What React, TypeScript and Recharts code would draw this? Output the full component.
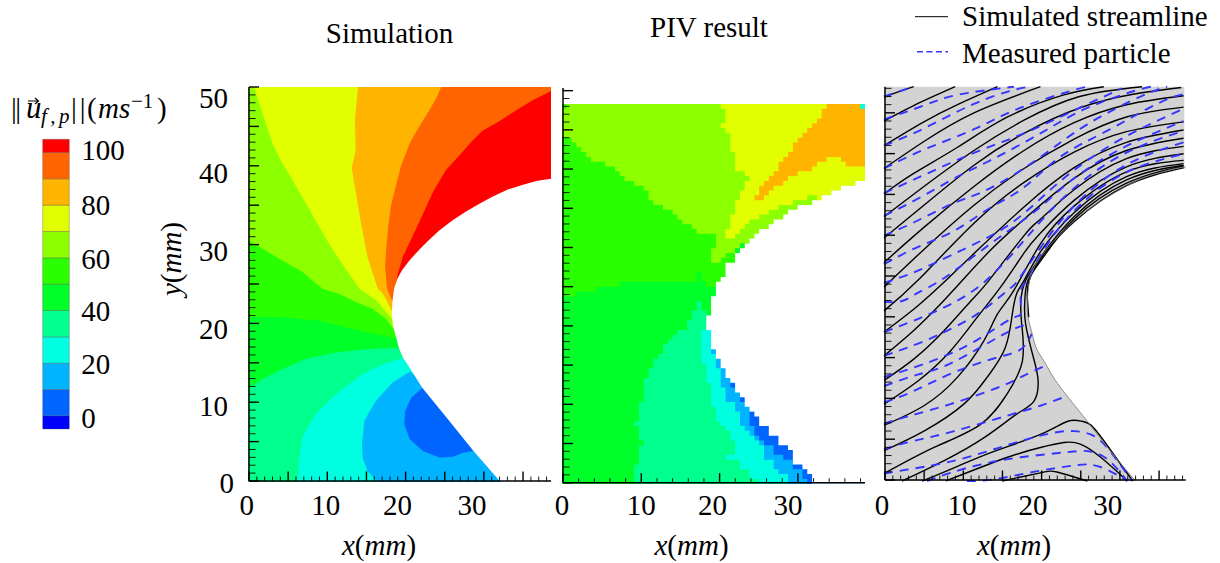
// Contour comparison: simulation, PIV result and streamlines around a profile
import { ScatterChart, Scatter, XAxis, YAxis } from 'recharts';

type Pt = number[];

const SERIF = '"Liberation Serif", "Times New Roman", serif';
const FONT_SIZE = 29;

// colour scale, bottom to top
const LEVELS = [-5, 0, 10, 20, 30, 40, 50, 60, 70, 80, 90, 100, 105];
const LEVEL_COLORS = [
  '#0000ff', '#0064ff', '#00b4ff', '#00ffe0', '#00ff8c', '#00ff28',
  '#2aff00', '#8cff00', '#e1ff00', '#ffb400', '#ff6400', '#ff0000',
];
const LEVEL_TICKS = [0, 20, 40, 60, 80, 100];
const LEVEL_LABEL_DY: Record<number, number> = { 0: 12.3, 20: 11.3, 40: 11, 60: 11.3, 80: 10.3, 100: 8 };

// profile edge in mm
const PROFILE: Pt[] = [
  [38.57, 38.4], [36.7, 38.1], [34.9, 37.6], [33, 37], [31.1, 36.1], [29.4, 35.2], [27.7, 34.2], [26, 33.1],
  [24.3, 31.8], [23, 30.6], [21.7, 29.3], [20.6, 28.1], [19.6, 26.8], [19, 25.7], [18.6, 24.5], [18.4, 23],
  [18.3, 21.3], [18.45, 19.8], [18.86, 18.3], [19.2, 17], [19.7, 15.8], [20.8, 14.1], [22.2, 11.9], [25.4, 8],
  [28.65, 4], [32.15, 0], [38.57, 0],
];

// simulation bands, painted from the top right corner towards the bottom
const SIM_RED: Pt[] = [[0, 0], [38.57, 0], [38.57, 50], [0, 50]];
const SIM_ORANGE_RED: Pt[] = [
  [38.57, 49.5], [36.3, 48.35], [34.2, 47.1], [32.05, 45.7], [29.9, 44.5], [28.65, 43.3], [26.95, 41.4], [25.2, 39.5],
  [23.55, 36.7], [22.3, 34], [21, 31.2], [19.7, 28.5], [19.07, 26.35], [18.7, 24.4],
  [24, 22], [38.57, 0], [0, 0], [0, 50], [38.57, 50],
];
const SIM_ORANGE: Pt[] = [
  [24.6, 50], [23.97, 48.6], [23.1, 47.1], [21.8, 45], [20.6, 42.9], [19.5, 40.1], [18.9, 37.8], [18.2, 35], [17.9, 32.7],
  [17.6, 29.7], [17.45, 27.2], [17.7, 24.45], [18.3, 23],
  [24, 20], [38.57, 0], [0, 0], [0, 50],
];
const SIM_YELLOW: Pt[] = [
  [14, 50], [13.6, 45.8], [13.7, 42], [13.2, 39.7], [13.75, 36.5], [14.4, 32.7], [15.2, 28.5], [16.5, 24.5],
  [17.2, 23.8], [18.3, 21.7], [24, 18], [38.57, 0], [0, 0], [0, 50],
];
const SIM_LIME: Pt[] = [
  [0.77, 50], [1.83, 46.7], [3.1, 42.9], [4.17, 40.7], [5.2, 39], [6.9, 36.1], [8.6, 33.1], [10.3, 30.2], [12, 27.6],
  [14.2, 24.45], [16.3, 23], [18.35, 20.6], [24, 16], [38.57, 0], [0, 0], [0, 50],
];
const SIM_GREEN: Pt[] = [
  [0, 30.6], [2.26, 29.3], [4.4, 28], [6.9, 26.6], [8.2, 25.5], [9.5, 24.45], [11.6, 23.8], [13.75, 22.8], [15.9, 21.9],
  [17.6, 20.6], [18.35, 19.6], [24, 15], [38.57, 0], [0, 0],
];
const SIM_GREEN2: Pt[] = [
  [0, 20.9], [4.4, 20.9], [9.1, 20.4], [13.3, 19.4], [15.9, 18.8], [18.9, 18.2], [24, 14], [38.57, 0], [0, 0],
];
const SIM_SPRING: Pt[] = [
  [0, 11.8], [1.83, 13], [4.4, 14.3], [7.4, 15.6], [11.2, 16.4], [15, 16.8], [19, 17], [24, 13], [38.57, 0], [0, 0],
];
const SIM_CYAN: Pt[] = [
  [6.3, 0], [6.5, 2.7], [6.9, 5.6], [8.6, 8.6], [11.2, 11.1], [14.6, 13.7], [17.2, 14.9], [19.7, 15.7], [24, 12], [38.57, 0],
];
const SIM_SKY: Pt[] = [
  [16.5, 0], [15.2, 1.4], [14.6, 3], [14.5, 4.7], [14.8, 7.7], [15.5, 9], [16.3, 10.3], [18.4, 12.6], [20.6, 14], [26, 10], [38.57, 0],
];
const SIM_BLUE: Pt[] = [
  [22.2, 11.9], [20.8, 10.7], [20, 9], [19.9, 7.3], [20.6, 5.4], [22.3, 3.9], [24.4, 3.1], [26.1, 3.2], [27.4, 3.7],
  [28.65, 3.9], [30, 12],
];

const SIM_LAYERS: [Pt[], string][] = [
  [SIM_RED, '#ff0000'], [SIM_ORANGE_RED, '#ff6400'], [SIM_ORANGE, '#ffb400'], [SIM_YELLOW, '#e1ff00'],
  [SIM_LIME, '#8cff00'], [SIM_GREEN, '#2aff00'], [SIM_GREEN2, '#00ff28'], [SIM_SPRING, '#00ff8c'],
  [SIM_CYAN, '#00ffe0'], [SIM_SKY, '#00b4ff'], [SIM_BLUE, '#0064ff'],
];

// PIV bands, read as [column, row from the top] of the measurement grid
const PIV_COL_MM = 38.57 / 63;
const PIV_ROW_MM = 48.3 / 79;
const PIV_ROWS = 79;

const PIV_BASE: Pt[] = [[0, 0], [63, 0], [63, 79], [0, 79]];
const PIV_LIME: Pt[] = [
  [1, 0], [63, 0], [63, 29], [37, 29], [37, 30], [36, 30], [36, 31], [34, 31], [34, 32], [33, 32], [33, 33], [31, 33],
  [31, 30], [32, 30], [32, 27], [28, 27], [28, 26], [27, 26], [27, 25], [25, 25], [25, 24], [24, 24], [24, 23], [23, 23],
  [23, 22], [21, 22], [21, 21], [19, 21], [19, 20], [18, 20], [18, 18], [17, 18], [17, 17], [15, 17], [15, 16], [13, 16],
  [13, 15], [12, 15], [12, 14], [11, 14], [11, 13], [9, 13], [9, 12], [6, 12], [6, 11], [5, 11], [5, 10], [4, 10], [4, 9],
  [3, 9], [3, 8], [2, 8], [2, 7], [0, 7], [0, 1], [1, 1],
];
const PIV_YELLOW: Pt[] = [
  [33, 0], [63, 0], [63, 16], [61, 16], [61, 17], [58, 17], [58, 18], [56, 18], [56, 19], [54, 19], [54, 20], [53, 20],
  [53, 19], [51, 19], [51, 20], [48, 20], [48, 21], [45, 21], [45, 22], [43, 22], [43, 23], [41, 23], [41, 24], [39, 24],
  [39, 25], [38, 25], [38, 26], [37, 26], [37, 27], [36, 27], [36, 28], [34, 28], [34, 26], [35, 26], [35, 23], [36, 23],
  [36, 20], [37, 20], [37, 18], [38, 18], [38, 16], [39, 16], [39, 15], [38, 15], [38, 14], [36, 14], [36, 10], [35, 10],
  [35, 6], [34, 6], [34, 5], [33, 5], [33, 4], [34, 4], [34, 1], [33, 1],
];
const PIV_ORANGE: Pt[] = [
  [55, 0], [63, 0], [63, 13], [59, 13], [59, 12], [58, 12], [58, 11], [55, 11], [55, 12], [53, 12], [53, 13], [52, 13],
  [52, 14], [49, 14], [49, 15], [47, 15], [47, 16], [46, 16], [46, 17], [44, 17], [44, 18], [43, 18], [43, 19], [42, 19],
  [42, 20], [40, 20], [40, 19], [41, 19], [41, 17], [42, 17], [42, 16], [43, 16], [43, 15], [44, 15], [44, 14], [45, 14],
  [45, 12], [46, 12], [46, 11], [47, 11], [47, 10], [48, 10], [48, 8], [49, 8], [49, 7], [50, 7], [50, 6], [51, 6],
  [51, 5], [52, 5], [52, 4], [53, 4], [53, 3], [54, 3], [54, 1], [55, 1],
];
const PIV_CORNER: Pt[] = [[62, 0], [63, 0], [63, 1], [62, 1]];
const PIV_PATCH: Pt[] = [[37, 29], [38, 29], [38, 30], [37, 30], [37, 31], [36, 31], [36, 30], [37, 30]];
const PIV_GREEN2: Pt[] = [
  [0, 40], [3, 40], [3, 39], [7, 39], [7, 38], [12, 38], [12, 37], [28, 37], [28, 35], [29, 35], [29, 37], [30, 37],
  [30, 38], [40, 38], [63, 79], [0, 79],
];
const PIV_SPRING: Pt[] = [
  [15, 79], [15, 75], [16, 75], [16, 71], [17, 71], [17, 70], [16, 70], [16, 67], [15, 67], [15, 66], [16, 66], [16, 62],
  [17, 62], [17, 57], [18, 57], [18, 55], [19, 55], [19, 53], [20, 53], [20, 52], [21, 52], [21, 50], [22, 50], [22, 49],
  [23, 49], [23, 48], [24, 48], [24, 47], [26, 47], [26, 45], [27, 45], [27, 43], [28, 43], [28, 41], [29, 41], [29, 43],
  [30, 43], [30, 44], [40, 44], [63, 79],
];
const PIV_CYAN: Pt[] = [
  [29, 47], [40, 47], [63, 79], [41, 79], [41, 78], [39, 78], [39, 76], [37, 76], [37, 74], [34, 74], [34, 73], [36, 73],
  [36, 70], [35, 70], [35, 68], [34, 68], [34, 67], [33, 67], [33, 66], [32, 66], [32, 63], [31, 63], [31, 58], [30, 58],
  [30, 54], [29, 54],
];
const PIV_SKY: Pt[] = [
  [31, 51], [31, 52], [32, 52], [32, 55], [33, 55], [33, 59], [34, 59], [34, 62], [36, 62], [36, 64], [37, 64], [37, 67],
  [38, 67], [38, 68], [39, 68], [39, 69], [40, 69], [40, 70], [41, 70], [41, 71], [42, 71], [42, 74], [44, 74], [44, 76],
  [45, 76], [45, 77], [47, 77], [47, 79], [63, 79], [63, 51],
];
const PIV_BLUE: Pt[] = [
  [39, 64], [39, 67], [40, 67], [40, 69], [41, 69], [41, 70], [42, 70], [42, 71], [44, 71], [44, 73], [46, 73], [46, 74],
  [48, 74], [48, 76], [50, 76], [50, 78], [51, 78], [51, 79], [63, 79], [63, 64],
];
const PIV_BLUE_A: Pt[] = [[35, 58], [36, 58], [36, 59], [35, 59]];
const PIV_BLUE_B: Pt[] = [[37, 61], [38, 61], [38, 62], [37, 62]];
const PIV_EDGE: Pt[] = [
  [63, 16], [61, 16], [61, 17], [58, 17], [58, 18], [56, 18], [56, 19], [54, 19], [54, 20], [52, 20], [52, 21], [49, 21],
  [49, 22], [47, 22], [47, 23], [46, 23], [46, 24], [44, 24], [44, 25], [43, 25], [43, 26], [41, 26], [41, 27], [40, 27],
  [40, 28], [39, 28], [39, 29], [38, 29], [38, 30], [37, 30], [37, 31], [36, 31], [36, 33], [34, 33], [34, 36], [33, 36],
  [33, 37], [32, 37], [32, 40], [31, 40], [31, 44], [30, 44], [30, 47], [31, 47], [31, 51], [32, 51], [32, 53], [33, 53],
  [33, 55], [34, 55], [34, 57], [35, 57], [35, 58], [36, 58], [36, 60], [37, 60], [37, 61], [38, 61], [38, 63], [39, 63],
  [39, 64], [40, 64], [40, 65], [41, 65], [41, 67], [43, 67], [43, 69], [45, 69], [45, 71], [47, 71], [47, 72], [48, 72],
  [48, 75], [50, 75], [50, 76], [51, 76], [51, 77], [52, 77], [52, 79], [63, 79],
];

const PIV_LAYERS: [Pt[], string][] = [
  [PIV_BASE, '#2aff00'], [PIV_LIME, '#8cff00'], [PIV_YELLOW, '#e1ff00'], [PIV_ORANGE, '#ffb400'], [PIV_CORNER, '#00ffe0'],
  [PIV_PATCH, '#00ff28'], [PIV_GREEN2, '#00ff28'], [PIV_SPRING, '#00ff8c'], [PIV_CYAN, '#00ffe0'], [PIV_SKY, '#00b4ff'],
  [PIV_BLUE, '#0064ff'], [PIV_BLUE_A, '#0064ff'], [PIV_BLUE_B, '#0064ff'], [PIV_EDGE, '#ffffff'],
];

// simulated streamlines in mm
const STREAMLINES: Pt[][] = [
  [[0, 46.9], [1.9, 47.6], [3.8, 48.2]],
  [[0, 44], [3.8, 45.9], [9.1, 48.2]],
  [[0, 41], [5.1, 43.9], [9.4, 46], [14.5, 48.2]],
  [[0, 38.2], [5.1, 41.5], [11.5, 45], [20, 48.2]],
  [[0, 35.1], [3.8, 37.6], [9.4, 40.8], [15.8, 44.5], [23, 47.2], [28.1, 48.2]],
  [[0, 32.3], [5.1, 36], [11.5, 40.4], [17.9, 44.1], [25, 47], [33, 48.2]],
  [[0, 29.7], [5.1, 33.7], [11.5, 38.6], [17.9, 42.5], [25, 45.6], [32, 47.3], [38, 48.1]],
  [[0, 26.7], [5.1, 31], [11.5, 36], [17.9, 40.4], [24.3, 43.8], [31, 46], [38.3, 47.1]],
  [[0, 23.7], [5.1, 28.3], [11.5, 33.7], [17.9, 38.2], [24.3, 41.8], [31, 44.5], [38.3, 45.7]],
  [[0, 20.8], [4.3, 24.5], [11.5, 31.5], [17.9, 36.5], [24.3, 40.2], [31, 42.7], [38.3, 43.9]],
  [[0, 18.2], [4.3, 21.4], [7.9, 24.5], [11.5, 27.8], [17.9, 33.5], [24.3, 38.3], [31, 41.4], [38.3, 42.9]],
  [[0, 15.3], [3.8, 18.4], [7.2, 21.6], [10, 24.5], [13.6, 28.2], [17.9, 32], [24.3, 37], [31, 40.4], [38.3, 41.9]],
  [[0, 12.3], [3.8, 14.9], [7.7, 18.4], [11.1, 22], [13.4, 24.5], [17.9, 30], [20, 32], [24.3, 35.6], [31, 39.4], [38.3, 40.9]],
  [[0, 9.4], [4.3, 12.2], [8.5, 15.9], [11.9, 20], [14.9, 23.7], [18, 28], [20, 30.3], [24.3, 34.3], [31, 38.4], [38.3, 40]],
  [[0, 6.8], [5.1, 9.2], [9.4, 12.7], [12.8, 17.2], [14.5, 20.4], [16.6, 23.3], [20, 29], [24.3, 33.6], [31, 37.8], [38.3, 39.2]],
  [[0, 3.7], [5.1, 6.1], [10.2, 9.4], [13.2, 12.7], [15.5, 16.3], [16.4, 20.4], [17, 23], [17.9, 24.5], [20, 28], [24.3, 32.8], [31, 37.2], [38.3, 38.8]],
  [[0, 0.9], [6.4, 4.1], [12.3, 6.9], [15.7, 10.6], [17.7, 14.7], [17.6, 19.2], [17.5, 22], [18.1, 24.5], [20.2, 27.6], [24.3, 32.3], [31, 36.8], [38.3, 38.6]],
  [[2.3, 0], [7.7, 2.5], [12.8, 5.3], [17, 8.2], [19.2, 9.8], [19.7, 12.3], [19.1, 15.1], [18.1, 19.2], [18, 22], [18.4, 24.5], [20.4, 27.4], [24.3, 32], [31, 36.4], [38.3, 38.5]],
  [[18.5, 20], [18.35, 22], [18.55, 24.5], [20.5, 27.8], [24.3, 31.7], [31, 36.1], [38.4, 38.3]],
  [[4.9, 0], [9.4, 1.8], [14, 3.6], [20, 5.7], [23.5, 7.3], [25.3, 7.3], [26.5, 6.8], [28.5, 4.4], [31.8, 0]],
  [[7.9, 0], [15.8, 2.9], [20, 4.1], [23, 4.7], [25.1, 4.5], [27.7, 2.9], [31.1, 0]],
  [[15.1, 0], [20, 1], [22.1, 1.1], [26, 0]],
];

// measured particle tracks in mm
const PARTICLES: Pt[][] = [
  [[0, 47], [3.8, 48.2]],
  [[0, 44.2], [5.1, 45.9], [9.4, 47.2], [16.6, 48.2]],
  [[0, 41], [5.1, 43.1], [11.5, 46.1], [16.6, 47.8], [18.7, 48.2]],
  [[0, 38.2], [5.1, 40.5], [11.5, 43], [17.4, 45.6], [24.3, 47.8], [26.4, 48.2]],
  [[0, 35.2], [5.1, 37.4], [11.5, 40.1], [17.9, 42.5], [24.3, 45.3], [30.4, 48]],
  [[0, 32.4], [4.7, 34.7], [9.4, 37.2], [13.6, 39.2], [20, 42.5], [26, 45.6], [32.8, 47.9], [35, 48.2]],
  [[0, 30], [3.8, 31.6], [9, 34], [13.6, 35.8], [20, 39.6], [26, 43.6], [32.8, 47], [36.2, 48.2]],
  [[0, 26.5], [4.3, 28.6], [9, 30.6], [13.6, 33.4], [17.9, 35.9], [22.5, 39.6], [28.5, 42.8], [34.9, 46.1], [38.3, 47.3]],
  [[0, 24.2], [3, 25.2], [6.4, 26.6], [11, 28.7], [15.8, 31.2], [20, 34.5], [24.3, 38], [30.7, 42], [38.3, 45.5]],
  [[0, 21.9], [2.3, 22], [4.3, 23], [7.2, 24.5], [11.5, 27.5], [15.8, 30.5], [20, 33.5], [24.3, 37], [30.7, 40.8], [38.3, 44]],
  [[0, 18.2], [4.3, 19.8], [8.5, 21.6], [12.8, 24.3], [17, 28.4], [20, 31.7], [24.3, 35.8], [30.7, 40], [38.3, 42.8]],
  [[0, 15.3], [3, 16.3], [6.8, 17.8], [11.9, 20.4], [15.8, 23.3], [17.1, 24.5], [20, 28.5], [24.3, 33.6], [30.7, 38.5], [38.3, 41.4]],
  [[0, 12.7], [5.1, 14.3], [11.1, 16.8], [16.2, 19.8], [17.5, 20.6], [17.5, 23.3], [18.3, 24.5], [20, 27.6], [24.3, 33], [30.7, 37.6], [38.3, 40]],
  [[0, 11.6], [4.3, 13], [9, 14.6], [16.2, 18.4], [18.4, 18.8]],
  [[0, 9.6], [3.8, 11], [9, 13.3], [14.5, 15.1], [17.5, 16.1], [18.9, 18]],
  [[0, 7], [3.4, 8], [8.5, 9.4], [14.5, 11.4], [17.5, 12.7], [20.6, 14.1]],
  [[0, 3.9], [3.8, 4.9], [9, 6.1], [15.8, 8], [20, 9.2], [23.4, 10.4]],
  [[0, 0.9], [3, 1.4], [7.7, 2.2], [12.8, 3.5], [17.5, 4.9], [21.7, 5.9], [24.3, 6.1], [26.4, 5.7], [28.5, 4.1], [31.7, 0]],
  [[5.5, 0], [8.5, 1], [12.3, 2], [17.5, 2.9], [24.3, 3.6], [26.4, 3.6], [28.5, 2.7], [31.1, 0]],
  [[10.6, 0], [14, 0.2], [19.6, 1.2], [24.3, 1.9], [26.4, 2], [28.5, 1.4], [31.1, 0]],
];

const GREY_AREA: Pt[] = [[0, 0], [38.4, 0], [38.4, 48.2], [0, 48.2]];

// axis ticks
const X_TICKS_FINE = [
  0, 1, 2, 3, 4, 5, 6, 7, 8, 9, 10, 11, 12, 13, 14, 15, 16, 17, 18, 19, 20, 21, 22, 23, 24, 25, 26, 27, 28, 29, 30,
  31, 32, 33, 34, 35, 36, 37, 38,
];
const X_TICKS_COARSE = [0, 2, 4, 6, 8, 10, 12, 14, 16, 18, 20, 22, 24, 26, 28, 30, 32, 34, 36, 38];
const Y_TICKS_50 = [...X_TICKS_FINE, 39, 40, 41, 42, 43, 44, 45, 46, 47, 48, 49, 50];
const Y_TICKS_48 = [...X_TICKS_FINE, 39, 40, 41, 42, 43, 44, 45, 46, 47, 48];

const toPoints = (pts: Pt[]) => pts.map(([x, y]) => ({ x, y }));
const fromGrid = (pts: Pt[]) => pts.map(([c, r]) => ({ x: c * PIV_COL_MM, y: (PIV_ROWS - r) * PIV_ROW_MM }));

const noDot = () => null;

function band(points: { x: number; y: number }[], fill: string, key: string, stroke = 'none') {
  return (
    <Scatter
      key={key}
      data={points}
      shape={noDot}
      line={{ fill, stroke, strokeWidth: 0.7 }}
      lineJointType="linear"
      isAnimationActive={false}
    />
  );
}

function curve(pts: Pt[], stroke: string, width: number, key: string, dash?: string) {
  return (
    <Scatter
      key={key}
      data={toPoints(pts)}
      shape={noDot}
      line={{ fill: 'none', stroke, strokeWidth: width, strokeDasharray: dash }}
      lineJointType="natural"
      isAnimationActive={false}
    />
  );
}

// inward ticks, labels sit where the original figure has them, not under the tick
function xTick(majorStep: number, shifts: Record<number, number>, labelDy: number) {
  return ({ x, y, payload }: any) => {
    const v = payload.value;
    const major = v % majorStep === 0;
    return (
      <g>
        <line x1={x} x2={x} y1={y} y2={y - (major ? 9.5 : 4.5)} stroke="#000" strokeWidth={major ? 1.4 : 0.9} />
        {shifts[v] !== undefined && (
          <text x={x + shifts[v]} y={y + labelDy} textAnchor="middle" fontFamily={SERIF} fontSize={FONT_SIZE} fill="#000">
            {v}
          </text>
        )}
      </g>
    );
  };
}

function yTick(majorStep: number, shifts: Record<number, number>) {
  return ({ x, y, payload }: any) => {
    const v = payload.value;
    const major = v % majorStep === 0;
    return (
      <g>
        <line x1={x} x2={x + (major ? 10 : 6.5)} y1={y} y2={y} stroke="#000" strokeWidth={major ? 1.4 : 0.9} />
        {shifts[v] !== undefined && (
          <text x={x - (v === 0 ? 15 : 21)} y={y + shifts[v] + 9.5} textAnchor="end" fontFamily={SERIF} fontSize={FONT_SIZE} fill="#000">
            {v}
          </text>
        )}
      </g>
    );
  };
}

const legendTick = ({ x, y, payload }: any) => (
  <text x={x + 12} y={y + LEVEL_LABEL_DY[payload.value]} fontFamily={SERIF} fontSize={FONT_SIZE} fill="#000">
    {payload.value}
  </text>
);

const W = 1220;
const H = 563;
const layer = { position: 'absolute', left: 0, top: 0 } as const;

// the axes get a chart of their own on top, so the inward ticks stay above the filled bands
function PanelAxes({ margin, xMax, yMax, xTicks, yTicks, xT, yT }: any) {
  const axisLine = { stroke: '#000', strokeWidth: 1.5 };
  return (
    <ScatterChart width={W} height={H} style={layer} margin={margin}>
      <Scatter data={[{ x: 0, y: 0 }]} shape={noDot} isAnimationActive={false} />
      <XAxis
        type="number"
        dataKey="x"
        height={1}
        domain={[0, xMax]}
        ticks={xTicks}
        interval={0}
        axisLine={axisLine}
        tickLine={false}
        tickSize={0}
        tickMargin={0}
        tick={xT}
      />
      <YAxis
        type="number"
        dataKey="y"
        width={1}
        domain={[0, yMax]}
        ticks={yTicks}
        interval={0}
        axisLine={axisLine}
        tickLine={false}
        tickSize={0}
        tickMargin={0}
        tick={yT}
      />
    </ScatterChart>
  );
}

function MmLabel({ x, y, axis, rotate }: { x: number; y: number; axis: string; rotate?: boolean }) {
  return (
    <text
      x={x}
      y={y}
      textAnchor="middle"
      fontFamily={SERIF}
      fontSize={FONT_SIZE}
      transform={rotate ? `rotate(-90 ${x} ${y})` : undefined}
    >
      <tspan fontStyle="italic">{axis}</tspan>(<tspan fontStyle="italic">mm</tspan>)
    </text>
  );
}

export default function App() {
  const simMargin = { left: 248, right: W - 551, top: 87, bottom: H - 481 - 1 };
  const pivMargin = { left: 562, right: W - 865, top: 88, bottom: H - 482.7 - 1 };
  const strMargin = { left: 884, right: W - 1185.7, top: 86.7, bottom: H - 480 - 1 };
  return (
    <div style={{ ...layer, width: W, height: H, background: '#fff' }}>
      {/* colour scale */}
      <ScatterChart width={W} height={H} style={layer} margin={{ left: 42.7, right: W - 69.3 - 1, top: 139.3, bottom: H - 429 }}>
        {LEVEL_COLORS.map((c, i) =>
          band(
            toPoints([[0, LEVELS[i]], [1, LEVELS[i]], [1, LEVELS[i + 1]], [0, LEVELS[i + 1]], [0, LEVELS[i]]]),
            c,
            `level${i}`,
            'rgba(70,70,70,0.45)',
          ),
        )}
        <XAxis type="number" dataKey="x" domain={[0, 1]} hide />
        <YAxis
          type="number"
          dataKey="y"
          orientation="right"
          width={1}
          domain={[-5, 105]}
          ticks={LEVEL_TICKS}
          interval={0}
          axisLine={false}
          tickLine={false}
          tickSize={0}
          tickMargin={0}
          tick={legendTick}
        />
      </ScatterChart>

      {/* simulation */}
      <ScatterChart width={W} height={H} style={layer} margin={simMargin}>
        {SIM_LAYERS.map(([pts, c], i) => band(toPoints(pts), c, `sim${i}`))}
        {band(toPoints(PROFILE), '#ffffff', 'simEdge')}
        <XAxis type="number" dataKey="x" height={1} domain={[0, 38.57]} hide />
        <YAxis type="number" dataKey="y" width={1} domain={[0, 50]} hide />
      </ScatterChart>
      <PanelAxes
        margin={simMargin}
        xMax={38.57}
        yMax={50}
        xTicks={X_TICKS_FINE}
        yTicks={Y_TICKS_50}
        xT={xTick(5, { 0: -2.3, 10: -1.5, 20: -8.2, 30: -12 }, 33.5)}
        yT={yTick(5, { 0: 2, 10: 4.4, 20: 6, 30: 7, 40: 8, 50: 11 })}
      />

      {/* PIV result */}
      <ScatterChart width={W} height={H} style={layer} margin={pivMargin}>
        {PIV_LAYERS.map(([pts, c], i) => band(fromGrid(pts), c, `piv${i}`))}
        <XAxis type="number" dataKey="x" height={1} domain={[0, 38.57]} hide />
        <YAxis type="number" dataKey="y" width={1} domain={[0, 50.34]} hide />
      </ScatterChart>
      <PanelAxes
        margin={pivMargin}
        xMax={38.57}
        yMax={50.34}
        xTicks={X_TICKS_COARSE}
        yTicks={Y_TICKS_50}
        xT={xTick(10, { 0: -1, 10: 0, 20: -7, 30: -10 }, 31.8)}
        yT={yTick(5, {})}
      />

      {/* streamlines against particle tracks */}
      <ScatterChart width={W} height={H} style={layer} margin={strMargin}>
        {band(toPoints(GREY_AREA), '#d3d3d3', 'grey')}
        {band(toPoints(PROFILE), '#ffffff', 'strEdge')}
        {STREAMLINES.map((pts, i) => curve(pts, '#000', 1.4, `s${i}`))}
        {PARTICLES.map((pts, i) => curve(pts, '#3535ff', 1.9, `p${i}`, '9 7'))}
        {curve(PROFILE.slice(0, -1), '#777', 0.8, 'profileLine')}
        <XAxis type="number" dataKey="x" height={1} domain={[0, 38.4]} hide />
        <YAxis type="number" dataKey="y" width={1} domain={[0, 48.2]} hide />
      </ScatterChart>
      <PanelAxes
        margin={strMargin}
        xMax={38.4}
        yMax={48.2}
        xTicks={X_TICKS_FINE}
        yTicks={Y_TICKS_48}
        xT={xTick(5, { 0: -3, 10: -1.3, 20: -8.6, 30: -12.2 }, 34.5)}
        yT={yTick(5, {})}
      />

      {/* titles, axis names and the line key */}
      <svg width={W} height={H} style={{ ...layer, pointerEvents: 'none' }}>
        <text x={389.5} y={43} textAnchor="middle" fontFamily={SERIF} fontSize={FONT_SIZE}>Simulation</text>
        <text x={709} y={37} textAnchor="middle" fontFamily={SERIF} fontSize={FONT_SIZE}>PIV result</text>
        <MmLabel x={379} y={555} axis="x" />
        <MmLabel x={691.5} y={555} axis="x" />
        <MmLabel x={1014} y={555} axis="x" />
        <MmLabel x={181} y={259} axis="y" rotate />
        <text y={118} fontFamily={SERIF} fontSize={FONT_SIZE}>
          <tspan x={11} letterSpacing={-1.5}>||</tspan>
          <tspan x={26} fontStyle="italic" fontSize={31}>u</tspan>
          <tspan x={41} dy={5} fontStyle="italic" fontSize={21} letterSpacing={3.5}>f,p</tspan>
          <tspan x={71} dy={-5} letterSpacing={3}>||</tspan>
          <tspan x={87}>(</tspan>
          <tspan x={98} fontStyle="italic">ms</tspan>
          <tspan x={131} dy={-10} fontSize={21}>−1</tspan>
          <tspan x={157} dy={10}>)</tspan>
        </text>
        <path d="M28 101 H38 M35 98 L38.5 101 L35 104" fill="none" stroke="#000" strokeWidth={1.2} />
        <line x1={915} x2={948} y1={16.7} y2={16.7} stroke="#000" strokeWidth={1} />
        <text x={962} y={25.7} fontFamily={SERIF} fontSize={FONT_SIZE}>Simulated streamline</text>
        <line x1={917} x2={948} y1={51.7} y2={51.7} stroke="#3535ff" strokeWidth={1.5} strokeDasharray="6 3.5" />
        <text x={962} y={63} fontFamily={SERIF} fontSize={FONT_SIZE}>Measured particle</text>
      </svg>
    </div>
  );
}
